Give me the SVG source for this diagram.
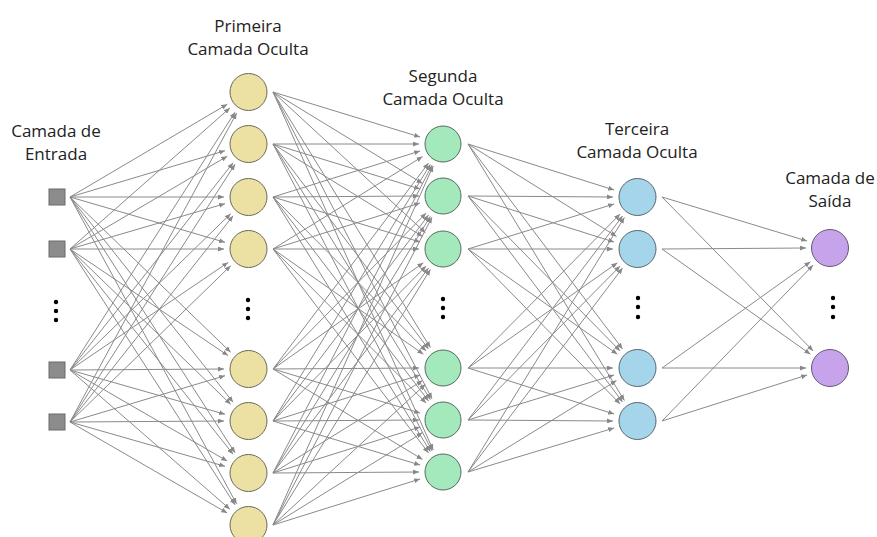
<svg xmlns="http://www.w3.org/2000/svg" width="877" height="537" viewBox="0 0 877 537">
<defs>
<marker id="ah" markerUnits="userSpaceOnUse" markerWidth="6" markerHeight="5" refX="6" refY="2.5" orient="auto"><path d="M0,0 L6,2.5 L0,5 z" fill="#888"/></marker>
<style>
line{stroke:#8a8a8a;stroke-width:1;marker-end:url(#ah)}
.lbl{font-family:"Open Sans","Noto Sans","Liberation Sans",sans-serif;font-size:17px;fill:#222;text-anchor:middle}
.in{fill:#8c8c8c;stroke:#6a6a6a;stroke-width:1}
.h1{fill:#ece1a2;stroke:#6a6a5a;stroke-width:1}
.h2{fill:#a3e9bc;stroke:#5a6a60;stroke-width:1}
.h3{fill:#a5d5eb;stroke:#5a6570;stroke-width:1}
.out{fill:#c6a3ea;stroke:#655a70;stroke-width:1}
.dot{fill:#000}
</style>
</defs>
<rect width="877" height="537" fill="#fff"/>
<g id="connectors">
<line x1="70" y1="197" x2="227.3" y2="104.2"/><line x1="70" y1="197" x2="225" y2="150.7"/><line x1="70" y1="197" x2="224" y2="197"/><line x1="70" y1="197" x2="225" y2="242.3"/><line x1="70" y1="197" x2="230.7" y2="352.3"/><line x1="70" y1="197" x2="233.1" y2="402.2"/><line x1="70" y1="197" x2="235" y2="452.8"/><line x1="70" y1="197" x2="236.6" y2="503.9"/>
<line x1="70" y1="249" x2="230" y2="107.9"/><line x1="70" y1="249" x2="227.3" y2="156.2"/><line x1="70" y1="249" x2="225" y2="203.7"/><line x1="70" y1="249" x2="224" y2="249"/><line x1="70" y1="249" x2="228.1" y2="355.6"/><line x1="70" y1="249" x2="230.7" y2="404.3"/><line x1="70" y1="249" x2="233.1" y2="454.2"/><line x1="70" y1="249" x2="235" y2="504.8"/>
<line x1="70" y1="370" x2="235" y2="112.2"/><line x1="70" y1="370" x2="233.1" y2="162.8"/><line x1="70" y1="370" x2="230.7" y2="213.7"/><line x1="70" y1="370" x2="228.1" y2="262.4"/><line x1="70" y1="370" x2="224" y2="369"/><line x1="70" y1="370" x2="225" y2="414.3"/><line x1="70" y1="370" x2="227.2" y2="461"/><line x1="70" y1="370" x2="229.9" y2="509.2"/>
<line x1="70" y1="422" x2="236.6" y2="113.1"/><line x1="70" y1="422" x2="235" y2="164.2"/><line x1="70" y1="422" x2="233.1" y2="215.8"/><line x1="70" y1="422" x2="230.7" y2="265.7"/><line x1="70" y1="422" x2="225" y2="375.7"/><line x1="70" y1="422" x2="224" y2="421"/><line x1="70" y1="422" x2="225" y2="466.3"/><line x1="70" y1="422" x2="227.2" y2="513"/>
<line x1="273" y1="92" x2="420.1" y2="137"/><line x1="273" y1="92" x2="422.5" y2="183.4"/><line x1="273" y1="92" x2="425.4" y2="232.7"/><line x1="273" y1="92" x2="430.4" y2="347.6"/><line x1="273" y1="92" x2="432" y2="398.7"/><line x1="273" y1="92" x2="433.2" y2="450.1"/>
<line x1="273" y1="144" x2="419" y2="144"/><line x1="273" y1="144" x2="420.1" y2="189"/><line x1="273" y1="144" x2="422.5" y2="236.4"/><line x1="273" y1="144" x2="428.5" y2="348.9"/><line x1="273" y1="144" x2="430.4" y2="399.6"/><line x1="273" y1="144" x2="432" y2="450.7"/>
<line x1="273" y1="197" x2="420.1" y2="151"/><line x1="273" y1="197" x2="419" y2="196"/><line x1="273" y1="197" x2="420.1" y2="242"/><line x1="273" y1="197" x2="426.1" y2="350.9"/><line x1="273" y1="197" x2="428.5" y2="400.9"/><line x1="273" y1="197" x2="430.4" y2="451.6"/>
<line x1="273" y1="249" x2="422.5" y2="156.6"/><line x1="273" y1="249" x2="420.1" y2="203"/><line x1="273" y1="249" x2="419" y2="249"/><line x1="273" y1="249" x2="423.4" y2="354.2"/><line x1="273" y1="249" x2="426.1" y2="402.9"/><line x1="273" y1="249" x2="428.5" y2="452.9"/>
<line x1="273" y1="369" x2="428.5" y2="163.1"/><line x1="273" y1="369" x2="426.1" y2="213.1"/><line x1="273" y1="369" x2="423.4" y2="262.8"/><line x1="273" y1="369" x2="419" y2="368"/><line x1="273" y1="369" x2="420.1" y2="413"/><line x1="273" y1="369" x2="422.5" y2="459.4"/>
<line x1="273" y1="421" x2="430.4" y2="164.4"/><line x1="273" y1="421" x2="428.5" y2="215.1"/><line x1="273" y1="421" x2="426.1" y2="266.1"/><line x1="273" y1="421" x2="420.1" y2="375"/><line x1="273" y1="421" x2="419" y2="420"/><line x1="273" y1="421" x2="420.1" y2="465"/>
<line x1="273" y1="473" x2="432" y2="165.3"/><line x1="273" y1="473" x2="430.4" y2="216.4"/><line x1="273" y1="473" x2="428.5" y2="268.1"/><line x1="273" y1="473" x2="422.5" y2="380.6"/><line x1="273" y1="473" x2="420.1" y2="427"/><line x1="273" y1="473" x2="419" y2="472"/>
<line x1="273" y1="525" x2="433.2" y2="165.9"/><line x1="273" y1="525" x2="432" y2="217.3"/><line x1="273" y1="525" x2="430.4" y2="269.4"/><line x1="273" y1="525" x2="425.4" y2="384.3"/><line x1="273" y1="525" x2="422.5" y2="432.6"/><line x1="273" y1="525" x2="420.1" y2="479"/>
<line x1="468" y1="144" x2="614.1" y2="190"/><line x1="468" y1="144" x2="616.5" y2="236.4"/><line x1="468" y1="144" x2="622.5" y2="348.9"/><line x1="468" y1="144" x2="624.4" y2="400.6"/>
<line x1="468" y1="196" x2="613" y2="197"/><line x1="468" y1="196" x2="614.1" y2="242"/><line x1="468" y1="196" x2="620.1" y2="350.9"/><line x1="468" y1="196" x2="622.5" y2="401.9"/>
<line x1="468" y1="249" x2="614.1" y2="204"/><line x1="468" y1="249" x2="613" y2="249"/><line x1="468" y1="249" x2="617.4" y2="354.2"/><line x1="468" y1="249" x2="620.1" y2="403.9"/>
<line x1="468" y1="368" x2="620.1" y2="214.1"/><line x1="468" y1="368" x2="617.4" y2="262.8"/><line x1="468" y1="368" x2="613" y2="368"/><line x1="468" y1="368" x2="614.1" y2="414"/>
<line x1="468" y1="420" x2="622.5" y2="216.1"/><line x1="468" y1="420" x2="620.1" y2="266.1"/><line x1="468" y1="420" x2="614.1" y2="375"/><line x1="468" y1="420" x2="613" y2="421"/>
<line x1="468" y1="472" x2="624.4" y2="217.4"/><line x1="468" y1="472" x2="622.5" y2="268.1"/><line x1="468" y1="472" x2="616.5" y2="380.6"/><line x1="468" y1="472" x2="614.1" y2="428"/>
<line x1="662" y1="197" x2="807.1" y2="241"/><line x1="662" y1="197" x2="813.1" y2="350.9"/>
<line x1="662" y1="249" x2="806" y2="248"/><line x1="662" y1="249" x2="810.4" y2="354.2"/>
<line x1="662" y1="368" x2="810.4" y2="261.8"/><line x1="662" y1="368" x2="806" y2="368"/>
<line x1="662" y1="421" x2="813.1" y2="265.1"/><line x1="662" y1="421" x2="807.1" y2="375"/>
</g>
<g id="labels">
<text class="lbl" x="56" y="137">Camada de</text><text class="lbl" x="56" y="160">Entrada</text>
<text class="lbl" x="248" y="32">Primeira</text><text class="lbl" x="248" y="55">Camada Oculta</text>
<text class="lbl" x="443" y="82">Segunda</text><text class="lbl" x="443" y="105">Camada Oculta</text>
<text class="lbl" x="637" y="135">Terceira</text><text class="lbl" x="637" y="158">Camada Oculta</text>
<text class="lbl" x="830" y="184">Camada de</text><text class="lbl" x="830" y="207">Saída</text>
</g>
<g id="input-layer">
<rect class="in" x="49" y="189" width="16" height="16"/>
<rect class="in" x="49" y="241" width="16" height="16"/>
<rect class="in" x="49" y="362" width="16" height="16"/>
<rect class="in" x="49" y="414" width="16" height="16"/>
<circle class="dot" cx="56" cy="302" r="2.2"/><circle class="dot" cx="56" cy="311" r="2.2"/><circle class="dot" cx="56" cy="320" r="2.2"/>
</g>
<g id="hidden-1">
<circle class="h1" cx="248.5" cy="92" r="18.5"/><circle class="h1" cx="248.5" cy="144" r="18.5"/><circle class="h1" cx="248.5" cy="197" r="18.5"/><circle class="h1" cx="248.5" cy="249" r="18.5"/>
<circle class="h1" cx="248.5" cy="369" r="18.5"/><circle class="h1" cx="248.5" cy="421" r="18.5"/><circle class="h1" cx="248.5" cy="473" r="18.5"/><circle class="h1" cx="248.5" cy="525" r="18.5"/>
<circle class="dot" cx="248" cy="300" r="2.2"/><circle class="dot" cx="248" cy="309" r="2.2"/><circle class="dot" cx="248" cy="318" r="2.2"/>
</g>
<g id="hidden-2">
<circle class="h2" cx="443" cy="144" r="18"/><circle class="h2" cx="443" cy="196" r="18"/><circle class="h2" cx="443" cy="249" r="18"/>
<circle class="h2" cx="443" cy="368" r="18"/><circle class="h2" cx="443" cy="420" r="18"/><circle class="h2" cx="443" cy="472" r="18"/>
<circle class="dot" cx="443" cy="299" r="2.2"/><circle class="dot" cx="443" cy="308" r="2.2"/><circle class="dot" cx="443" cy="317" r="2.2"/>
</g>
<g id="hidden-3">
<circle class="h3" cx="637.5" cy="197" r="18.5"/><circle class="h3" cx="637.5" cy="249" r="18.5"/>
<circle class="h3" cx="637.5" cy="368" r="18.5"/><circle class="h3" cx="637.5" cy="421" r="18.5"/>
<circle class="dot" cx="638" cy="298" r="2.2"/><circle class="dot" cx="638" cy="307" r="2.2"/><circle class="dot" cx="638" cy="317" r="2.2"/>
</g>
<g id="output-layer">
<circle class="out" cx="830" cy="248" r="18.5"/><circle class="out" cx="830" cy="368" r="18.5"/>
<circle class="dot" cx="833" cy="298" r="2.2"/><circle class="dot" cx="833" cy="307" r="2.2"/><circle class="dot" cx="833" cy="317" r="2.2"/>
</g>
</svg>
